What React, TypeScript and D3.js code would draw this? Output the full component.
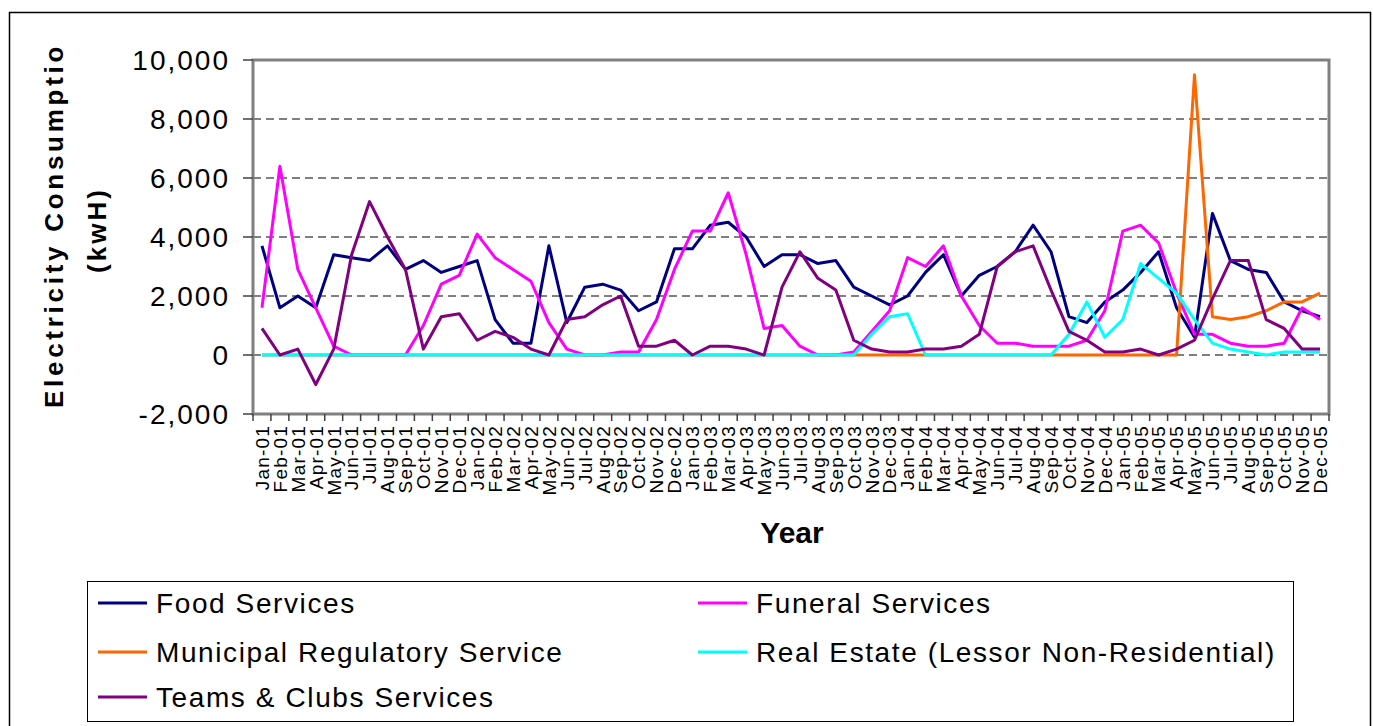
import React, { useEffect, useRef } from 'react';
import * as d3 from 'd3';

const months = [
  'Jan-01', 'Feb-01', 'Mar-01', 'Apr-01', 'May-01', 'Jun-01', 'Jul-01', 'Aug-01', 'Sep-01', 'Oct-01', 'Nov-01', 'Dec-01',
  'Jan-02', 'Feb-02', 'Mar-02', 'Apr-02', 'May-02', 'Jun-02', 'Jul-02', 'Aug-02', 'Sep-02', 'Oct-02', 'Nov-02', 'Dec-02',
  'Jan-03', 'Feb-03', 'Mar-03', 'Apr-03', 'May-03', 'Jun-03', 'Jul-03', 'Aug-03', 'Sep-03', 'Oct-03', 'Nov-03', 'Dec-03',
  'Jan-04', 'Feb-04', 'Mar-04', 'Apr-04', 'May-04', 'Jun-04', 'Jul-04', 'Aug-04', 'Sep-04', 'Oct-04', 'Nov-04', 'Dec-04',
  'Jan-05', 'Feb-05', 'Mar-05', 'Apr-05', 'May-05', 'Jun-05', 'Jul-05', 'Aug-05', 'Sep-05', 'Oct-05', 'Nov-05', 'Dec-05',
];

const foodServices = [
  3700, 1600, 2000, 1600, 3400, 3300, 3200, 3700, 2900, 3200, 2800, 3000,
  3200, 1200, 400, 400, 3700, 1100, 2300, 2400, 2200, 1500, 1800, 3600,
  3600, 4400, 4500, 4000, 3000, 3400, 3400, 3100, 3200, 2300, 2000, 1700,
  2000, 2800, 3400, 2000, 2700, 3000, 3500, 4400, 3500, 1300, 1100, 1800,
  2200, 2800, 3500, 1600, 600, 4800, 3200, 2900, 2800, 1800, 1500, 1300,
];

const funeralServices = [
  1600, 6400, 2900, 1600, 300, 0, 0, 0, 0, 1000, 2400, 2700,
  4100, 3300, 2900, 2500, 1100, 200, 0, 0, 100, 100, 1200, 2900,
  4200, 4200, 5500, 3400, 900, 1000, 300, 0, 0, 100, 800, 1500,
  3300, 3000, 3700, 2000, 1000, 400, 400, 300, 300, 300, 500, 1500,
  4200, 4400, 3800, 2100, 700, 700, 400, 300, 300, 400, 1600, 1200,
];

const municipalRegulatory = [
  0, 0, 0, 0, 0, 0, 0, 0, 0, 0, 0, 0,
  0, 0, 0, 0, 0, 0, 0, 0, 0, 0, 0, 0,
  0, 0, 0, 0, 0, 0, 0, 0, 0, 0, 0, 0,
  0, 0, 0, 0, 0, 0, 0, 0, 0, 0, 0, 0,
  0, 0, 0, 0, 9500, 1300, 1200, 1300, 1500, 1800, 1800, 2100,
];

const realEstate = [
  0, 0, 0, 0, 0, 0, 0, 0, 0, 0, 0, 0,
  0, 0, 0, 0, 0, 0, 0, 0, 0, 0, 0, 0,
  0, 0, 0, 0, 0, 0, 0, 0, 0, 0, 700, 1300,
  1400, 0, 0, 0, 0, 0, 0, 0, 0, 700, 1800, 600,
  1200, 3100, 2600, 2100, 1200, 400, 200, 100, 0, 100, 100, 100,
];

const teamsClubs = [
  900, 0, 200, -1000, 200, 3400, 5200, 4000, 2900, 200, 1300, 1400,
  500, 800, 600, 200, 0, 1200, 1300, 1700, 2000, 300, 300, 500,
  0, 300, 300, 200, 0, 2300, 3500, 2600, 2200, 500, 200, 100,
  100, 200, 200, 300, 700, 3000, 3500, 3700, 2200, 800, 500, 100,
  100, 200, 0, 200, 500, 1900, 3200, 3200, 1200, 900, 200, 200,
];

const yTicks = [-2000, 0, 2000, 4000, 6000, 8000, 10000];

const series = [
  { name: 'Food Services', color: '#000080', values: foodServices },
  { name: 'Funeral Services', color: '#FF00FF', values: funeralServices },
  { name: 'Municipal Regulatory Service', color: '#FF6600', values: municipalRegulatory },
  { name: 'Real Estate (Lessor Non-Residential)', color: '#00FFFF', values: realEstate },
  { name: 'Teams & Clubs Services', color: '#800080', values: teamsClubs },
];

const FONT = '"Liberation Sans", Arial, sans-serif';

const App = () => {
  const ref = useRef(null);

  useEffect(() => {
    const svg = d3.select(ref.current);
    svg.selectAll('*').remove();

    const plot = { left: 253, right: 1329, top: 60, bottom: 414 };

    const x = d3.scaleBand().domain(months).range([plot.left, plot.right]);
    const y = d3.scaleLinear().domain([-2000, 10000]).range([plot.bottom, plot.top]);
    const cx = (m) => x(m) + x.bandwidth() / 2;
    const fmt = d3.formatLocale({ decimal: '.', thousands: ',', grouping: [3], currency: ['', ''], minus: '-' }).format(',');

    // outer chart frame
    svg.append('rect')
      .attr('x', 9.5).attr('y', 12.5)
      .attr('width', 1361).attr('height', 730)
      .attr('fill', '#fff').attr('stroke', '#000').attr('stroke-width', 1.5);

    // gridlines
    svg.append('g')
      .selectAll('line')
      .data(yTicks.filter(t => t > -2000 && t < 10000))
      .enter().append('line')
      .attr('x1', plot.left).attr('x2', plot.right)
      .attr('y1', d => y(d)).attr('y2', d => y(d))
      .attr('stroke', '#000').attr('stroke-width', 1)
      .attr('stroke-dasharray', '8,5');

    // plot border
    svg.append('rect')
      .attr('x', plot.left).attr('y', plot.top)
      .attr('width', plot.right - plot.left).attr('height', plot.bottom - plot.top)
      .attr('fill', 'none').attr('stroke', '#808080').attr('stroke-width', 3);

    // y ticks + labels
    const yAxis = svg.append('g');
    yAxis.selectAll('line')
      .data(yTicks)
      .enter().append('line')
      .attr('x1', plot.left - 10).attr('x2', plot.left)
      .attr('y1', d => y(d)).attr('y2', d => y(d))
      .attr('stroke', '#404040').attr('stroke-width', 1.5);
    yAxis.selectAll('text')
      .data(yTicks)
      .enter().append('text')
      .attr('x', 230).attr('y', d => y(d))
      .attr('text-anchor', 'end')
      .attr('dominant-baseline', 'central')
      .attr('font-family', FONT).attr('font-size', 28)
      .attr('letter-spacing', 2)
      .text(d => fmt(d));

    // x ticks + labels
    const xAxis = svg.append('g');
    xAxis.selectAll('line')
      .data(d3.range(months.length + 1))
      .enter().append('line')
      .attr('x1', i => plot.left + i * x.step()).attr('x2', i => plot.left + i * x.step())
      .attr('y1', plot.bottom).attr('y2', plot.bottom + 7)
      .attr('stroke', '#404040').attr('stroke-width', 1.5);
    xAxis.selectAll('text')
      .data(months)
      .enter().append('text')
      .attr('transform', d => `translate(${cx(d)},425) rotate(-90)`)
      .attr('dy', '0.36em')
      .attr('text-anchor', 'end')
      .attr('font-family', FONT).attr('font-size', 19)
      .attr('letter-spacing', 1.2)
      .text(d => d);

    // series lines
    const line = d3.line()
      .x((d, i) => cx(months[i]))
      .y(d => y(d));

    svg.append('g')
      .selectAll('path')
      .data(series)
      .enter().append('path')
      .attr('d', s => line(s.values))
      .attr('fill', 'none')
      .attr('stroke', s => s.color)
      .attr('stroke-width', 3)
      .attr('stroke-linejoin', 'round');

    // axis titles
    svg.append('defs').append('clipPath').attr('id', 'ytitle-clip')
      .append('rect').attr('x', 20).attr('y', 43).attr('width', 110).attr('height', 400);

    const yTitle = svg.append('g').attr('clip-path', 'url(#ytitle-clip)');
    yTitle.append('text')
      .attr('transform', 'translate(63,408) rotate(-90)')
      .attr('font-family', FONT).attr('font-size', 26).attr('font-weight', 'bold')
      .attr('textLength', 381).attr('lengthAdjust', 'spacing')
      .text('Electricity Consumption');
    yTitle.append('text')
      .attr('transform', 'translate(106,230) rotate(-90)')
      .attr('text-anchor', 'middle')
      .attr('font-family', FONT).attr('font-size', 26).attr('font-weight', 'bold')
      .attr('letter-spacing', 3)
      .text('(kwH)');

    svg.append('text')
      .attr('x', 792).attr('y', 543)
      .attr('text-anchor', 'middle')
      .attr('font-family', FONT).attr('font-size', 30).attr('font-weight', 'bold')
      .text('Year');

    // legend
    const legend = svg.append('g');
    legend.append('rect')
      .attr('x', 87.5).attr('y', 581.5)
      .attr('width', 1206).attr('height', 140)
      .attr('fill', '#fff').attr('stroke', '#000').attr('stroke-width', 1);

    const rows = [603, 652, 697];
    const cols = [98, 698];
    const item = legend.selectAll('g.item')
      .data(series)
      .enter().append('g')
      .attr('class', 'item')
      .attr('transform', (s, i) => `translate(${cols[i % 2]},${rows[Math.floor(i / 2)]})`);
    item.append('line')
      .attr('x1', 0).attr('x2', 49)
      .attr('stroke', s => s.color).attr('stroke-width', 3);
    item.append('text')
      .attr('x', 58).attr('dy', '0.35em')
      .attr('font-family', FONT).attr('font-size', 28)
      .attr('letter-spacing', 1.6)
      .text(s => s.name);
  }, []);

  return (
    <svg ref={ref} width={1373} height={726} style={{ position: 'absolute', left: 0, top: 0 }}></svg>
  );
};

export default App;
